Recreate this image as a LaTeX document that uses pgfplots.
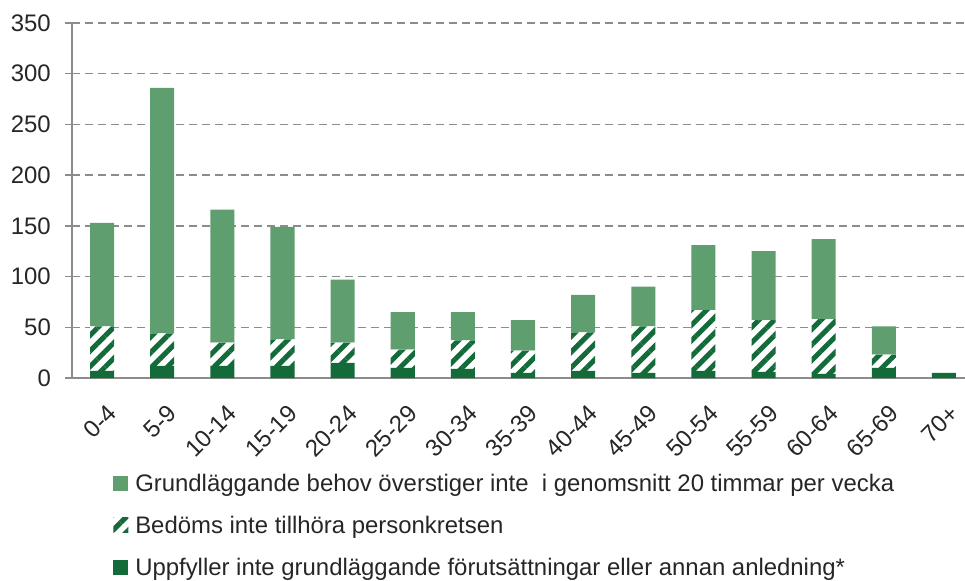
\documentclass[border=0pt]{standalone}
\usepackage{pgfplots}
\pgfplotsset{compat=1.18}
\usepackage{fontspec}
\setmainfont{Liberation Sans}
\usetikzlibrary{patterns.meta}
\definecolor{lightg}{HTML}{5F9E6E}
\definecolor{darkg}{HTML}{146B3A}
\definecolor{axgray}{HTML}{8C8C8C}
\definecolor{txt}{HTML}{262626}
\begin{document}
\begin{tikzpicture}
\begin{axis}[
  at={(72bp,-378bp)}, anchor=south west,
  scale only axis, width=893bp, height=355bp,
  ybar stacked, bar width=0.4,
  xmin=-0.5, xmax=14.35, ymin=0, ymax=350,
  xtick={0,...,14},
  xticklabels={0-4,5-9,10-14,15-19,20-24,25-29,30-34,35-39,40-44,45-49,50-54,55-59,60-64,65-69,70+},
  ytick={0,50,...,350},
  axis x line*=bottom, axis y line*=left,
  axis line style={axgray, line width=1.5bp, -},
  xtick style={draw=none},
  ytick style={axgray, line width=1.5bp},
  tick align=outside, major tick length=7bp,
  ymajorgrids, grid style={axgray, line width=1.5bp, dash pattern=on 8bp off 5bp},
  /pgf/number format/assume math mode=true,
  tick label style={font=\fontsize{24}{28}\selectfont, text=txt},
  xticklabel style={rotate=45, anchor=north east, inner sep=0pt, xshift=-10bp, yshift=-16bp},
  yticklabel style={inner sep=0pt, xshift=-14bp},
  legend style={draw=none, at={(axis description cs:0.046,-0.27)}, anchor=north west,
    font=\fontsize{24}{28}\selectfont, text=txt, row sep=23bp, column sep=7bp, inner sep=0pt,
    nodes={inner sep=0pt}},
  legend cell align=left,
  reverse legend,
  legend image code/.code={\path[#1] (0bp,-7.5bp) rectangle (15bp,7.5bp);},
]
\addplot[fill=darkg, draw=none] coordinates {(0,7)(1,12)(2,12)(3,12)(4,15)(5,10)(6,9)(7,5)(8,7)(9,5)(10,7)(11,6)(12,4)(13,10)(14,5)};
\addplot[fill=white, draw=none, postaction={pattern={Lines[angle=45,distance=11bp,line width=5bp]}, pattern color=darkg}] coordinates {(0,44)(1,32)(2,23)(3,26)(4,20)(5,18)(6,28)(7,22)(8,38)(9,46)(10,60)(11,51)(12,54)(13,13)(14,0)};
\addplot[fill=lightg, draw=none] coordinates {(0,102)(1,242)(2,131)(3,111)(4,62)(5,37)(6,28)(7,30)(8,37)(9,39)(10,64)(11,68)(12,79)(13,28)(14,0)};
\legend{Uppfyller inte grundläggande förutsättningar eller annan anledning*, Bedöms inte tillhöra personkretsen, Grundläggande behov överstiger inte\ \ i genomsnitt 20 timmar per vecka}
\end{axis}
\pgfresetboundingbox
\useasboundingbox (0,0) rectangle (965bp,-581bp);
\end{tikzpicture}
\end{document}
